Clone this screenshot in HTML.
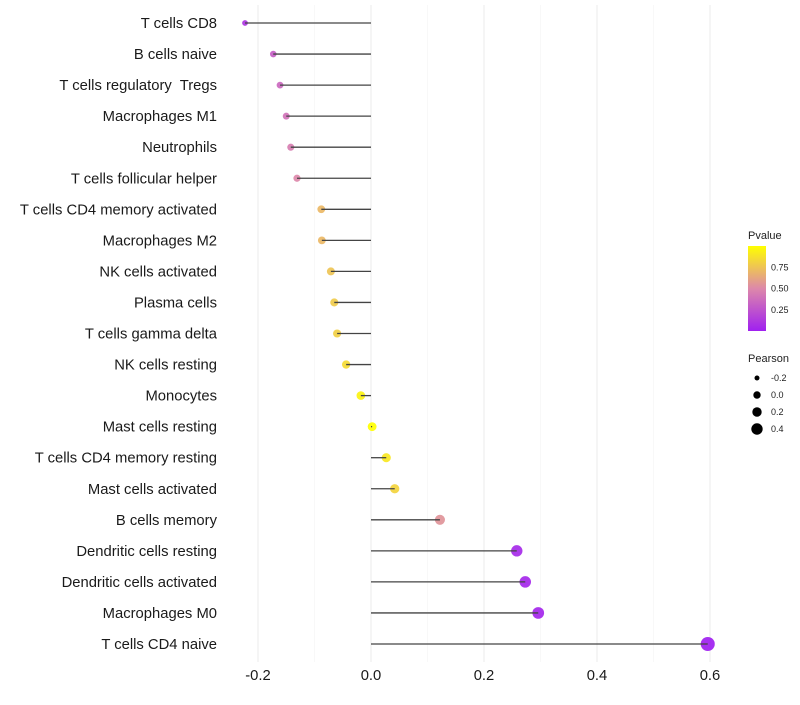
<!DOCTYPE html>
<html><head><meta charset="utf-8"><style>
body{margin:0;background:#fff;font-family:"Liberation Sans",sans-serif}
text{white-space:pre}
</style></head><body>
<svg id="c" width="800" height="700" xmlns="http://www.w3.org/2000/svg"></svg>
<script>
const categories=["T cells CD8","B cells naive","T cells regulatory  Tregs","Macrophages M1","Neutrophils","T cells follicular helper","T cells CD4 memory activated","Macrophages M2","NK cells activated","Plasma cells","T cells gamma delta","NK cells resting","Monocytes","Mast cells resting","T cells CD4 memory resting","Mast cells activated","B cells memory","Dendritic cells resting","Dendritic cells activated","Macrophages M0","T cells CD4 naive"];
const pearson=[-0.223,-0.173,-0.161,-0.150,-0.142,-0.131,-0.088,-0.087,-0.071,-0.065,-0.060,-0.044,-0.018,0.002,0.027,0.042,0.122,0.258,0.273,0.296,0.596];
const pvalue=[0.1,0.3,0.35,0.4,0.45,0.5,0.7,0.7,0.75,0.78,0.8,0.85,0.95,1.0,0.9,0.82,0.55,0.05,0.04,0.03,0.0];
const xTicks=[-0.2,0,0.2,0.4,0.6];
const xTickLabels=["-0.2","0.0","0.2","0.4","0.6"];
const legendP=[0.25,0.5,0.75];
const legendPLabels=["0.25","0.50","0.75"];
const legendSize=[-0.2,0,0.2,0.4];
const legendSizeLabels=["-0.2","0.0","0.2","0.4"];
const svg=document.getElementById('c');
const NS="http://www.w3.org/2000/svg";
const X=v=>371+v*565;
const Y=i=>23+i*31.05;
const R=v=>Math.sqrt(Math.max(2.2,19.5+50*v));
function col(p){
  const stops=[[0,[160,32,240]],[0.5,[221,136,170]],[1,[255,255,0]]];
  let a=stops[0],b=stops[1];if(p>0.5){a=stops[1];b=stops[2];}
  const t=(p-a[0])/(b[0]-a[0]);
  const c=a[1].map((x,k)=>Math.round(x+(b[1][k]-x)*t));
  return `rgb(${c[0]},${c[1]},${c[2]})`;
}
function mk(tag,attrs,name,text){const e=document.createElementNS(NS,tag);for(const k in attrs)e.setAttribute(k,attrs[k]);


if(text!==undefined)e.textContent=text;svg.appendChild(e);return e;}
for(let v=-0.2;v<=0.61;v+=0.1){const major=Math.abs(Math.round(v*10))%2===0;
mk('line',{x1:X(v),x2:X(v),y1:5,y2:662,stroke:major?'#ebebeb':'#f3f3f3','stroke-width':major?1:0.6},'grid-line');}
xTicks.forEach((v,i)=>mk('text',{x:X(v),y:680,'text-anchor':'middle','font-size':14.8,fill:'#1a1a1a'},'x-tick-label',xTickLabels[i]));
categories.forEach((c,i)=>{
  mk('text',{x:217,y:Y(i)+5,'text-anchor':'end','font-size':14.8,fill:'#1a1a1a'},'y-tick-label',c);
  mk('circle',{cx:X(pearson[i]),cy:Y(i),r:R(pearson[i]),fill:col(pvalue[i]),opacity:0.92},'point-'+i);
  mk('line',{x1:X(0),x2:X(pearson[i]),y1:Y(i),y2:Y(i),stroke:'#444','stroke-width':1.3},'stem-'+i);
});
mk('text',{x:748,y:239,'font-size':11,fill:'#222'},'pvalue-legend-title','Pvalue');
const defs=document.createElementNS(NS,'defs');defs.innerHTML='<linearGradient id="g" x1="0" y1="1" x2="0" y2="0"><stop offset="0" stop-color="rgb(160,32,240)"/><stop offset="0.5" stop-color="rgb(221,136,170)"/><stop offset="1" stop-color="rgb(255,255,0)"/></linearGradient>';svg.appendChild(defs);
mk('rect',{x:748,y:246,width:18,height:85,fill:'url(#g)'},'pvalue-colorbar');
legendP.forEach((p,i)=>{const y=331-p*85;mk('text',{x:771,y:y+3,'font-size':9,fill:'#222'},'pvalue-legend-label',legendPLabels[i]);});
mk('text',{x:748,y:362,'font-size':11,fill:'#222'},'pearson-legend-title','Pearson');
const LR=[2.5,3.7,4.7,5.7];
legendSize.forEach((v,i)=>{const y=378+i*17;mk('circle',{cx:757,cy:y,r:LR[i],fill:'#000'},'pearson-legend-dot');
mk('text',{x:771,y:y+3,'font-size':9,fill:'#222'},'pearson-legend-label',legendSizeLabels[i]);});
</script>
</body></html>
